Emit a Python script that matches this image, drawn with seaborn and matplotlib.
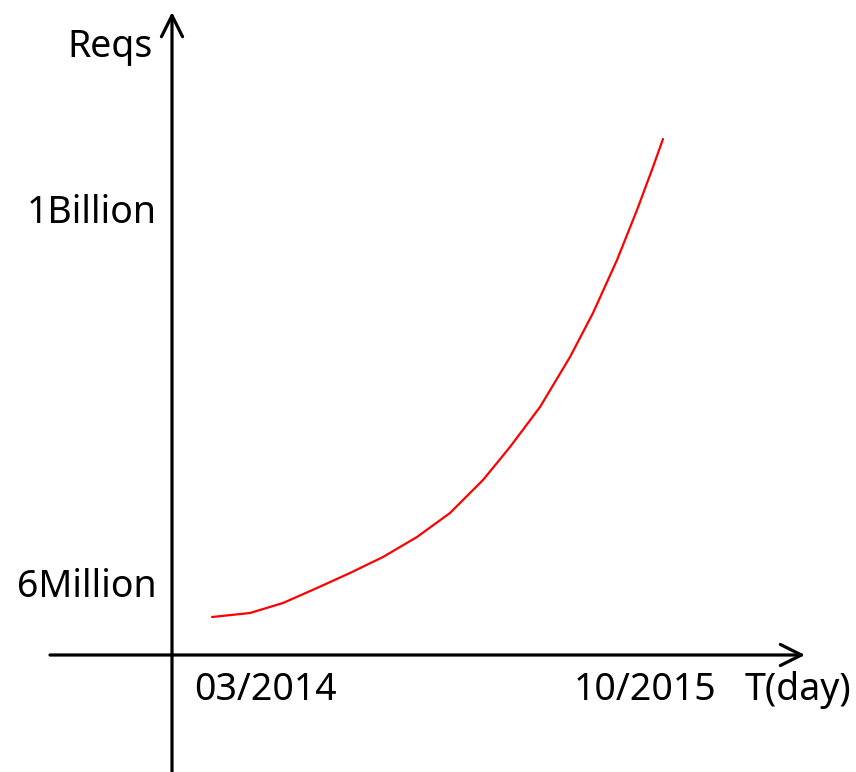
import matplotlib
matplotlib.use("Agg")
import matplotlib.pyplot as plt
import pandas as pd
import seaborn as sns

# growth curve, x in arbitrary time units from the y axis, y in arbitrary request units
time_pts = [40, 78, 111, 145, 178, 211, 245, 278, 311, 338, 368, 398, 421, 445, 465, 481, 491]
reqs_pts = [38, 42, 52, 67, 82, 98, 118, 142, 175, 208, 248, 298, 342, 395, 445, 488, 516]

x_ticks = [93, 473]
x_labels = ["03/2014", "10/2015"]
y_ticks = [68, 442]
y_labels = ["6Million", "1Billion"]

sns.set_style("white")
plt.rcParams["font.family"] = ["Noto Sans", "DejaVu Sans"]
plt.rcParams["text.color"] = "black"

fig = plt.figure(figsize=(8.56, 7.72), dpi=100)
ax = fig.add_axes([0, 0, 1, 1])
ax.set_xlim(-172, 684)
ax.set_ylim(-117, 655)
ax.axis("off")

df = pd.DataFrame({"t": time_pts, "reqs": reqs_pts})
sns.lineplot(data=df, x="t", y="reqs", color="#ff0000", linewidth=1.6, ax=ax)

# axes drawn as arrows
arrow = dict(arrowstyle="->", color="black", lw=2.3, mutation_scale=38, shrinkA=0, shrinkB=0)
ax.annotate("", xy=(0, 643), xytext=(0, -117), arrowprops=arrow)
ax.annotate("", xy=(633, 0), xytext=(-122, 0), arrowprops=arrow)

fs = 27
ax.text(-62, 608, "Reqs", fontsize=fs, ha="center", va="center", color="black")
for y, lab in zip(y_ticks, y_labels):
    ax.text(-15, y, lab, fontsize=fs, ha="right", va="center", color="black")
for x, lab in zip(x_ticks, x_labels):
    ax.text(x, -35, lab, fontsize=fs, ha="center", va="center", color="black")
ax.text(573, -35, "T(day)", fontsize=fs, ha="left", va="center", color="black")

fig.savefig("out.png", dpi=100)
